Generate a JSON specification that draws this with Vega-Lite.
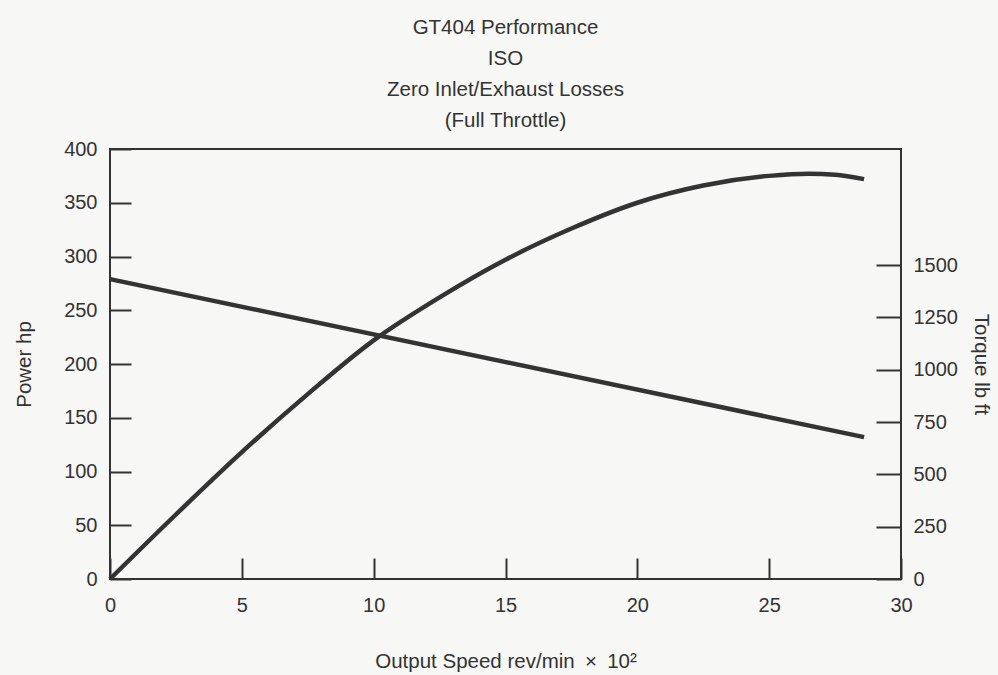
{
  "$schema": "https://vega.github.io/schema/vega-lite/v6.json",
  "width": 791,
  "height": 430,
  "autosize": {"type": "none"},
  "padding": {"left": 110, "top": 149, "right": 97, "bottom": 96},
  "background": "#f7f7f5",
  "title": {
    "text": ["GT404 Performance", "ISO", "Zero Inlet/Exhaust Losses", "(Full Throttle)"],
    "fontSize": 20.5,
    "fontWeight": "normal",
    "font": "Liberation Sans",
    "color": "#333333",
    "lineHeight": 31,
    "offset": 8,
    "anchor": "middle"
  },
  "config": {
    "view": {"stroke": "#333333", "strokeWidth": 2},
    "axis": {
      "domain": false,
      "grid": false,
      "tickColor": "#333333",
      "tickWidth": 2,
      "labelFont": "Liberation Sans",
      "labelFontSize": 20,
      "labelColor": "#333333",
      "labelFlush": false,
      "titleFont": "Liberation Sans",
      "titleFontSize": 20.5,
      "titleFontWeight": "normal",
      "titleColor": "#333333",
      "format": "d"
    }
  },
  "datasets": {
    "power": [
      {"speed": 0, "power": 0},
      {"speed": 2.5, "power": 60},
      {"speed": 5, "power": 118},
      {"speed": 7.5, "power": 172},
      {"speed": 10, "power": 222},
      {"speed": 12.5, "power": 262},
      {"speed": 15, "power": 297},
      {"speed": 17.5, "power": 326},
      {"speed": 20, "power": 350},
      {"speed": 22.5, "power": 366},
      {"speed": 25, "power": 375},
      {"speed": 26.5, "power": 377},
      {"speed": 27.5, "power": 376},
      {"speed": 28.6, "power": 372}
    ],
    "torque": [
      {"speed": 0, "torque": 1433},
      {"speed": 28.6, "torque": 678}
    ]
  },
  "layer": [
    {
      "data": {"name": "power"},
      "mark": {"type": "line", "color": "#333333", "strokeWidth": 4.5, "interpolate": "monotone", "strokeCap": "butt"},
      "encoding": {
        "x": {
          "field": "speed", "type": "quantitative",
          "scale": {"domain": [0, 30], "nice": false},
          "axis": {"values": [0, 5, 10, 15, 20, 25, 30], "tickSize": -21, "labelPadding": 37, "title": "Output Speed rev/min\u2002×\u200210²", "titlePadding": 36}
        },
        "y": {
          "field": "power", "type": "quantitative",
          "scale": {"domain": [0, 400], "nice": false},
          "axis": {"values": [0, 50, 100, 150, 200, 250, 300, 350, 400], "tickSize": -21, "labelPadding": 34, "title": "Power hp", "titlePadding": 29}
        }
      }
    },
    {
      "data": {"name": "torque"},
      "mark": {"type": "line", "color": "#333333", "strokeWidth": 4.5, "strokeCap": "butt"},
      "encoding": {
        "x": {"field": "speed", "type": "quantitative"},
        "y": {
          "field": "torque", "type": "quantitative",
          "scale": {"domain": [0, 2055], "nice": false},
          "axis": {"orient": "right", "values": [0, 250, 500, 750, 1000, 1250, 1500], "tickSize": -25, "labelPadding": 37, "title": "Torque lb ft", "titlePadding": 13}
        }
      }
    }
  ],
  "resolve": {"scale": {"y": "independent"}, "axis": {"y": "independent"}}
}
